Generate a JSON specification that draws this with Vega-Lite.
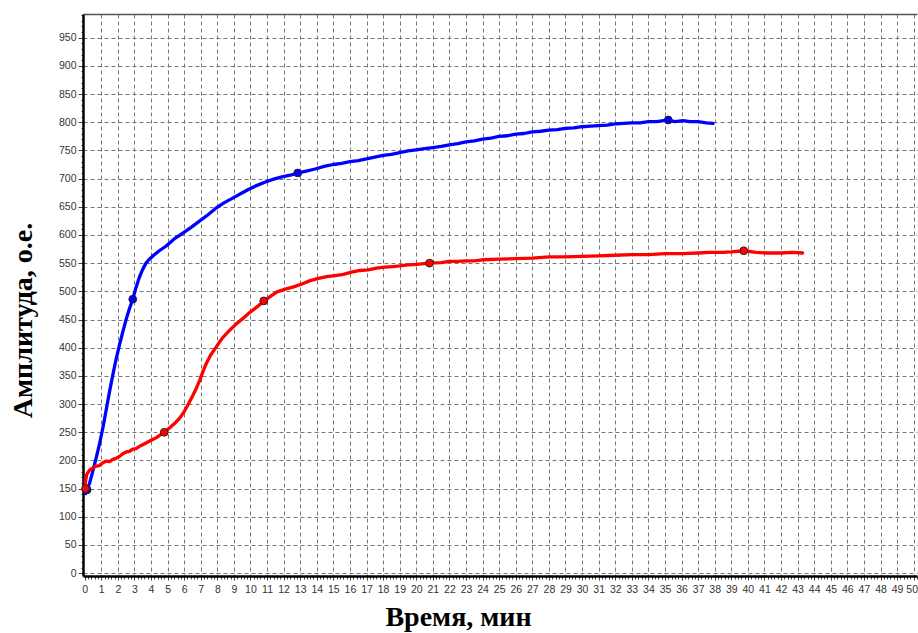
{
  "$schema": "https://vega.github.io/schema/vega-lite/v6.json",
  "width": 834,
  "height": 562,
  "autosize": "none",
  "padding": {"left": 83, "top": 14, "right": 1, "bottom": 57},
  "background": "white",
  "config": {
    "view": {"stroke": null},
    "axis": {
      "labelFont": "Liberation Sans",
      "labelFontSize": 10.5,
      "labelColor": "#333333",
      "titleFont": "Liberation Serif",
      "titleFontSize": 28,
      "titleFontWeight": "bold",
      "titleColor": "#000000"
    }
  },
  "datasets": {
    "curves": [
      {"s": "blue", "x": 0, "y": 150}, {"s": "blue", "x": 0.06, "y": 141}, {"s": "blue", "x": 0.15, "y": 148}, {"s": "blue", "x": 0.3, "y": 160},
      {"s": "blue", "x": 0.5, "y": 182}, {"s": "blue", "x": 0.7, "y": 205}, {"s": "blue", "x": 0.9, "y": 230}, {"s": "blue", "x": 1.1, "y": 258},
      {"s": "blue", "x": 1.3, "y": 290}, {"s": "blue", "x": 1.5, "y": 322}, {"s": "blue", "x": 1.7, "y": 352}, {"s": "blue", "x": 1.9, "y": 380},
      {"s": "blue", "x": 2.1, "y": 405}, {"s": "blue", "x": 2.3, "y": 428}, {"s": "blue", "x": 2.5, "y": 450}, {"s": "blue", "x": 2.7, "y": 469},
      {"s": "blue", "x": 2.9, "y": 486}, {"s": "blue", "x": 3.1, "y": 507}, {"s": "blue", "x": 3.3, "y": 525}, {"s": "blue", "x": 3.5, "y": 539},
      {"s": "blue", "x": 3.7, "y": 550}, {"s": "blue", "x": 3.9, "y": 557}, {"s": "blue", "x": 4.2, "y": 565}, {"s": "blue", "x": 4.5, "y": 572},
      {"s": "blue", "x": 4.9, "y": 580}, {"s": "blue", "x": 5.4, "y": 593}, {"s": "blue", "x": 5.9, "y": 603}, {"s": "blue", "x": 6.4, "y": 613},
      {"s": "blue", "x": 6.9, "y": 624}, {"s": "blue", "x": 7.4, "y": 635}, {"s": "blue", "x": 7.9, "y": 647}, {"s": "blue", "x": 8.4, "y": 657},
      {"s": "blue", "x": 8.9, "y": 665}, {"s": "blue", "x": 9.4, "y": 673}, {"s": "blue", "x": 9.9, "y": 681}, {"s": "blue", "x": 10.4, "y": 688},
      {"s": "blue", "x": 10.9, "y": 694}, {"s": "blue", "x": 11.4, "y": 699}, {"s": "blue", "x": 11.9, "y": 703}, {"s": "blue", "x": 12.4, "y": 706},
      {"s": "blue", "x": 12.85, "y": 710}, {"s": "blue", "x": 13.3, "y": 713}, {"s": "blue", "x": 13.9, "y": 717}, {"s": "blue", "x": 14.5, "y": 722},
      {"s": "blue", "x": 15.0, "y": 725}, {"s": "blue", "x": 15.5, "y": 727}, {"s": "blue", "x": 16.0, "y": 730}, {"s": "blue", "x": 16.5, "y": 732},
      {"s": "blue", "x": 17.0, "y": 735}, {"s": "blue", "x": 17.5, "y": 738}, {"s": "blue", "x": 18.0, "y": 741}, {"s": "blue", "x": 18.5, "y": 743},
      {"s": "blue", "x": 19.0, "y": 746}, {"s": "blue", "x": 19.5, "y": 749}, {"s": "blue", "x": 20.0, "y": 751}, {"s": "blue", "x": 20.5, "y": 753},
      {"s": "blue", "x": 21.0, "y": 755}, {"s": "blue", "x": 21.5, "y": 757}, {"s": "blue", "x": 22.0, "y": 760}, {"s": "blue", "x": 22.5, "y": 762},
      {"s": "blue", "x": 23.0, "y": 765}, {"s": "blue", "x": 23.5, "y": 767}, {"s": "blue", "x": 24.0, "y": 770}, {"s": "blue", "x": 24.5, "y": 772},
      {"s": "blue", "x": 25.0, "y": 775}, {"s": "blue", "x": 25.5, "y": 776}, {"s": "blue", "x": 26.0, "y": 779}, {"s": "blue", "x": 26.5, "y": 780},
      {"s": "blue", "x": 27.0, "y": 783}, {"s": "blue", "x": 27.5, "y": 784}, {"s": "blue", "x": 28.0, "y": 786}, {"s": "blue", "x": 28.5, "y": 787},
      {"s": "blue", "x": 29.0, "y": 789}, {"s": "blue", "x": 29.5, "y": 790}, {"s": "blue", "x": 30.0, "y": 792}, {"s": "blue", "x": 30.5, "y": 793},
      {"s": "blue", "x": 31.0, "y": 794}, {"s": "blue", "x": 31.5, "y": 795}, {"s": "blue", "x": 32.0, "y": 797}, {"s": "blue", "x": 32.5, "y": 798},
      {"s": "blue", "x": 33.0, "y": 799}, {"s": "blue", "x": 33.5, "y": 799}, {"s": "blue", "x": 34.0, "y": 801}, {"s": "blue", "x": 34.5, "y": 801},
      {"s": "blue", "x": 35.2, "y": 804}, {"s": "blue", "x": 35.6, "y": 801}, {"s": "blue", "x": 36.1, "y": 803}, {"s": "blue", "x": 36.5, "y": 801},
      {"s": "blue", "x": 37.0, "y": 801}, {"s": "blue", "x": 37.5, "y": 799}, {"s": "blue", "x": 37.9, "y": 798},
      {"s": "red", "x": 0, "y": 150}, {"s": "red", "x": 0.05, "y": 162}, {"s": "red", "x": 0.12, "y": 175}, {"s": "red", "x": 0.3, "y": 183},
      {"s": "red", "x": 0.5, "y": 187}, {"s": "red", "x": 0.7, "y": 190}, {"s": "red", "x": 0.9, "y": 191}, {"s": "red", "x": 1.1, "y": 196},
      {"s": "red", "x": 1.3, "y": 199}, {"s": "red", "x": 1.5, "y": 198}, {"s": "red", "x": 1.7, "y": 202}, {"s": "red", "x": 1.9, "y": 204},
      {"s": "red", "x": 2.1, "y": 207}, {"s": "red", "x": 2.3, "y": 212}, {"s": "red", "x": 2.5, "y": 215}, {"s": "red", "x": 2.7, "y": 216},
      {"s": "red", "x": 2.9, "y": 220}, {"s": "red", "x": 3.1, "y": 221}, {"s": "red", "x": 3.3, "y": 225}, {"s": "red", "x": 3.5, "y": 228},
      {"s": "red", "x": 3.7, "y": 231}, {"s": "red", "x": 3.9, "y": 234}, {"s": "red", "x": 4.1, "y": 237}, {"s": "red", "x": 4.3, "y": 240},
      {"s": "red", "x": 4.5, "y": 244}, {"s": "red", "x": 4.8, "y": 250}, {"s": "red", "x": 5.1, "y": 257}, {"s": "red", "x": 5.4, "y": 265},
      {"s": "red", "x": 5.7, "y": 274}, {"s": "red", "x": 5.95, "y": 284}, {"s": "red", "x": 6.2, "y": 297}, {"s": "red", "x": 6.5, "y": 314},
      {"s": "red", "x": 6.75, "y": 329}, {"s": "red", "x": 6.95, "y": 343}, {"s": "red", "x": 7.15, "y": 359}, {"s": "red", "x": 7.35, "y": 373},
      {"s": "red", "x": 7.6, "y": 387}, {"s": "red", "x": 7.95, "y": 402}, {"s": "red", "x": 8.3, "y": 417}, {"s": "red", "x": 8.75, "y": 431},
      {"s": "red", "x": 9.1, "y": 441}, {"s": "red", "x": 9.55, "y": 452}, {"s": "red", "x": 9.9, "y": 461}, {"s": "red", "x": 10.2, "y": 468},
      {"s": "red", "x": 10.5, "y": 475}, {"s": "red", "x": 10.8, "y": 483}, {"s": "red", "x": 11.1, "y": 489}, {"s": "red", "x": 11.6, "y": 499},
      {"s": "red", "x": 12.1, "y": 504}, {"s": "red", "x": 12.6, "y": 508}, {"s": "red", "x": 13.1, "y": 513}, {"s": "red", "x": 13.6, "y": 519},
      {"s": "red", "x": 14.1, "y": 523}, {"s": "red", "x": 14.6, "y": 526}, {"s": "red", "x": 15.1, "y": 528}, {"s": "red", "x": 15.6, "y": 530},
      {"s": "red", "x": 16.1, "y": 534}, {"s": "red", "x": 16.6, "y": 537}, {"s": "red", "x": 17.1, "y": 538}, {"s": "red", "x": 17.6, "y": 541},
      {"s": "red", "x": 18.1, "y": 543}, {"s": "red", "x": 18.6, "y": 544}, {"s": "red", "x": 19.0, "y": 545}, {"s": "red", "x": 19.5, "y": 547},
      {"s": "red", "x": 20.0, "y": 548}, {"s": "red", "x": 20.8, "y": 550}, {"s": "red", "x": 21.5, "y": 551}, {"s": "red", "x": 22.0, "y": 553},
      {"s": "red", "x": 22.5, "y": 553}, {"s": "red", "x": 23.0, "y": 554}, {"s": "red", "x": 23.5, "y": 554}, {"s": "red", "x": 24.0, "y": 556},
      {"s": "red", "x": 25.0, "y": 557}, {"s": "red", "x": 26.0, "y": 558}, {"s": "red", "x": 27.0, "y": 559}, {"s": "red", "x": 28.0, "y": 561},
      {"s": "red", "x": 29.0, "y": 561}, {"s": "red", "x": 30.0, "y": 562}, {"s": "red", "x": 31.0, "y": 563}, {"s": "red", "x": 32.0, "y": 564},
      {"s": "red", "x": 33.0, "y": 565}, {"s": "red", "x": 34.0, "y": 565}, {"s": "red", "x": 35.0, "y": 567}, {"s": "red", "x": 36.0, "y": 567},
      {"s": "red", "x": 37.0, "y": 568}, {"s": "red", "x": 37.7, "y": 569}, {"s": "red", "x": 38.5, "y": 569}, {"s": "red", "x": 39.0, "y": 570},
      {"s": "red", "x": 39.75, "y": 572}, {"s": "red", "x": 40.5, "y": 569}, {"s": "red", "x": 41.2, "y": 568}, {"s": "red", "x": 42.0, "y": 568},
      {"s": "red", "x": 42.7, "y": 569}, {"s": "red", "x": 43.3, "y": 568}
    ],
    "markers": [
      {"s": "blue", "x": 0.15, "y": 148}, {"s": "blue", "x": 2.9, "y": 486}, {"s": "blue", "x": 12.85, "y": 710}, {"s": "blue", "x": 35.2, "y": 804},
      {"s": "red", "x": 0.05, "y": 150}, {"s": "red", "x": 4.8, "y": 250}, {"s": "red", "x": 10.8, "y": 483}, {"s": "red", "x": 20.8, "y": 550}, {"s": "red", "x": 39.75, "y": 572}
    ]
  },
  "layer": [
    {
      "data": {"name": "markers"},
      "mark": {"type": "point", "opacity": 0},
      "encoding": {
        "x": {
          "field": "x", "type": "quantitative",
          "scale": {"domain": [-0.1, 50.2], "nice": false, "zero": false},
          "axis": {
            "orient": "bottom",
            "tickCount": 250,
            "labels": false,
            "grid": false,
            "domain": false,
            "title": null,
            "tickSize": 3,
            "tickColor": "#444444"
          }
        },
        "y": {
          "field": "y", "type": "quantitative",
          "scale": {"domain": [-5, 992], "nice": false, "zero": false},
          "axis": {
            "orient": "left",
            "tickCount": 100,
            "labels": false,
            "grid": false,
            "domain": false,
            "title": null,
            "tickSize": 2,
            "tickColor": "#444444"
          }
        }
      }
    },
    {
      "data": {"name": "markers"},
      "mark": {"type": "point", "opacity": 0},
      "encoding": {
        "x": {
          "field": "x", "type": "quantitative",
          "axis": {"orient": "top", "labels": false, "ticks": false, "grid": false, "domain": true, "domainColor": "#555555", "domainWidth": 1.5, "title": null}
        },
        "y": {
          "field": "y", "type": "quantitative",
          "axis": {"orient": "left", "labels": false, "ticks": false, "grid": false, "domain": false, "title": null}
        }
      }
    },
    {
      "data": {"name": "curves"},
      "mark": {"type": "line", "strokeWidth": 3.3, "strokeCap": "round", "strokeJoin": "round"},
      "encoding": {
        "x": {
          "field": "x", "type": "quantitative",
          "axis": {
            "orient": "bottom",
            "values": [0,1,2,3,4,5,6,7,8,9,10,11,12,13,14,15,16,17,18,19,20,21,22,23,24,25,26,27,28,29,30,31,32,33,34,35,36,37,38,39,40,41,42,43,44,45,46,47,48,49,50],
            "format": "d",
            "title": "Время, мин",
            "titleX": 375,
            "titleY": 27,
            "titleAlign": "center",
            "titleBaseline": "top",
            "labelOverlap": false,
            "labelFlush": false,
            "labelPadding": 4,
            "labelOffset": {"condition": {"test": "datum.value === 50", "value": -2}, "value": 0},
            "tickSize": 4,
            "tickColor": "#444444",
            "domainColor": "#000000",
            "domainWidth": 2.5,
            "grid": true,
            "gridColor": "#777777",
            "gridDash": [4, 3],
            "gridOpacity": {"condition": {"test": "datum.value === 0", "value": 0}, "value": 1}
          }
        },
        "y": {
          "field": "y", "type": "quantitative",
          "axis": {
            "orient": "left",
            "values": [0,50,100,150,200,250,300,350,400,450,500,550,600,650,700,750,800,850,900,950],
            "format": "d",
            "title": "Амплитуда, о.е.",
            "titleAngle": -90,
            "titleX": -60,
            "titleY": 306,
            "titleAlign": "center",
            "titleBaseline": "middle",
            "labelOverlap": false,
            "labelFlush": false,
            "labelPadding": 2,
            "tickSize": 5,
            "tickColor": "#444444",
            "domainColor": "#000000",
            "domainWidth": 2.5,
            "grid": true,
            "gridColor": "#777777",
            "gridDash": [4, 3]
          }
        },
        "color": {"field": "s", "type": "nominal", "scale": {"domain": ["blue", "red"], "range": ["#0000FF", "#FF0000"]}, "legend": null}
      }
    },
    {
      "data": {"name": "markers"},
      "mark": {"type": "point", "filled": true, "size": 60, "stroke": "#222222", "strokeWidth": 1, "opacity": 1},
      "encoding": {
        "x": {"field": "x", "type": "quantitative", "axis": null},
        "y": {"field": "y", "type": "quantitative", "axis": null},
        "fill": {"field": "s", "type": "nominal", "scale": {"domain": ["blue", "red"], "range": ["#0000FF", "#FF0000"]}, "legend": null}
      }
    }
  ],
  "resolve": {"axis": {"x": "independent", "y": "independent"}}
}
